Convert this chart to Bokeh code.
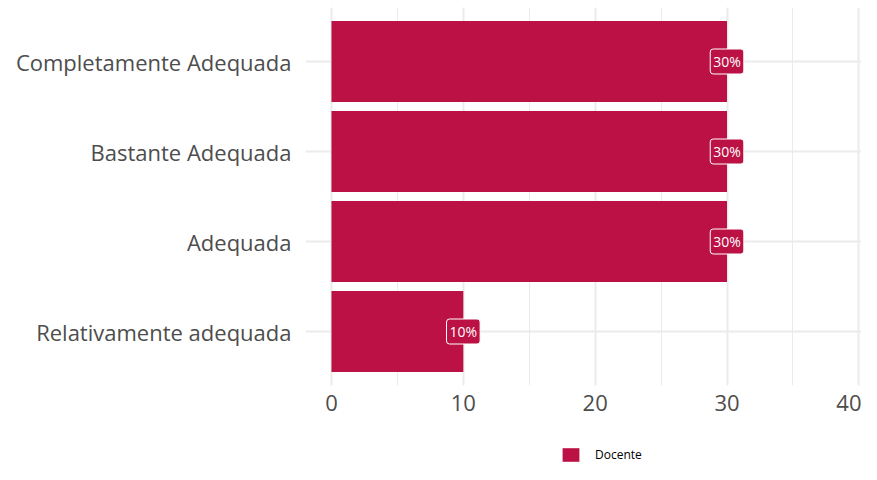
from bokeh.plotting import figure
from bokeh.layouts import column
from bokeh.models import ColumnDataSource, Legend, LegendItem, Range1d, FactorRange, SingleIntervalTicker
from bokeh.core.properties import value
from bokeh.embed import file_html
from bokeh.resources import INLINE

categories = ["Relativamente adequada", "Adequada", "Bastante Adequada", "Completamente Adequada"]
values = [10, 30, 30, 30]
labels = ["10%", "30%", "30%", "30%"]
series_name = "Docente"

BAR = "#BC1144"
FONT = "Open Sans"

src = ColumnDataSource(dict(cat=categories, val=values, lab=labels))

p = figure(width=861, height=444, output_backend="svg", toolbar_location=None,
           y_range=FactorRange(factors=categories, range_padding=0.05),
           x_range=Range1d(-1.97, 40.2),
           min_border_left=305, min_border_right=0, min_border_top=7, min_border_bottom=59)
p.outline_line_color = None
p.background_fill_color = "white"

r = p.hbar(y="cat", right="val", left=0, height=0.9, source=src, fill_color=BAR, line_color=None)

p.text(x="val", y="cat", text="lab", source=src, text_color="white", text_font=value(FONT),
       text_font_size="14px", text_align="center", text_baseline="middle",
       background_fill_color=BAR, border_line_color="white", border_line_width=1,
       padding=3, border_radius=3)

p.xaxis.ticker = SingleIntervalTicker(interval=10, num_minor_ticks=2)
for ax in (p.xaxis, p.yaxis):
    ax.axis_line_color = None
    ax.major_tick_line_color = None
    ax.minor_tick_line_color = None
    ax.major_label_text_font = FONT
    ax.major_label_text_font_size = "22px"
    ax.major_label_text_color = "#4D4D4D"
p.yaxis.major_label_standoff = 8
p.xaxis.major_label_standoff = 3

p.xgrid.grid_line_color = "#EBEBEB"
p.xgrid.grid_line_width = 2
p.xgrid.minor_grid_line_color = "#EBEBEB"
p.xgrid.minor_grid_line_width = 1
p.ygrid.grid_line_color = "#EBEBEB"
p.ygrid.grid_line_width = 2

# legend strip below the chart (a figure without axes; its frame is aligned with the chart's)
lg = figure(width=861, height=20, output_backend="svg", toolbar_location=None,
            x_range=Range1d(0, 1), y_range=Range1d(0, 1),
            x_axis_location=None, y_axis_location=None,
            min_border=0, min_border_left=0, min_border_right=0,
            min_border_top=0, min_border_bottom=0)
lg.grid.visible = False
lg.outline_line_color = None
# legend proxy: one swatch-only bar placed outside the visible range
lr = lg.hbar(y=[-5], left=[-5], right=[-4], height=0.9, fill_color=BAR, line_color=None)
legend = Legend(items=[LegendItem(label=series_name, renderers=[lr])],
                orientation="horizontal", location=(255, 1),
                glyph_width=21, glyph_height=17, label_height=17,
                label_text_font=FONT, label_text_baseline="middle",
                label_text_font_size="12px", label_text_color="black",
                padding=0, margin=0, spacing=10, label_standoff=14,
                border_line_color=None, background_fill_alpha=0)
lg.add_layout(legend, "center")

layout = column(p, lg, spacing=0)
open("out.html", "w").write(file_html(layout, INLINE))
